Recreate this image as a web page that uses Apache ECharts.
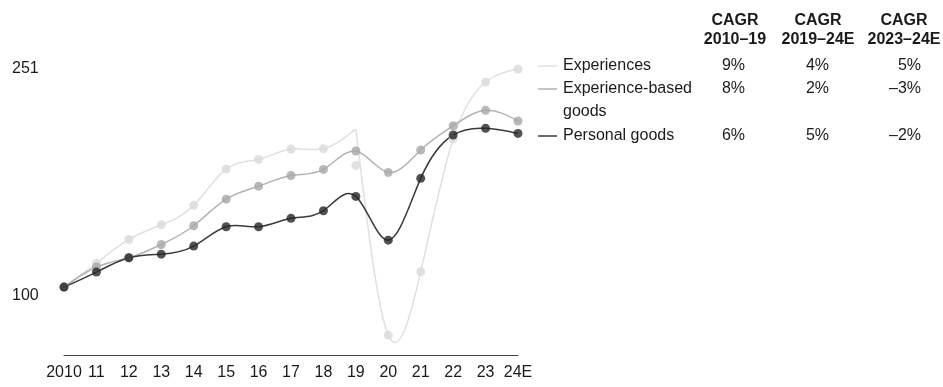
<!DOCTYPE html>
<html>
<head>
<meta charset="utf-8">
<script src="https://cdn.jsdelivr.net/npm/echarts@6/dist/echarts.min.js"></script>
<style>
  html, body { margin: 0; padding: 0; background: #fff; }
  #chart { width: 943px; height: 387px; }
</style>
</head>
<body>
<div id="chart"></div>
<script>
// Spending index, 2010 = 100
const years = ['2010', '11', '12', '13', '14', '15', '16', '17', '18', '19', '20', '21', '22', '23', '24E'];
const experiences = [100, 116.6, 133, 143.1, 156.6, 181.7, 188.4, 195.6, 195.8, 184.3, 66.8, 110.6, 202.5, 242, 251];
// Experiences trend line: peaks at 2019 before the drop, drawn with a corner there
const experiencesTrend = [100, 116.6, 133, 143.1, 156.6, 181.7, 188.4, 195.6, 195.8, 209.4, 66.8, 110.6, 202.5, 242, 251];
const experiencesCorners = [9];
const experienceBased = [100, 113.9, 120.3, 129.5, 142.5, 160.9, 169.9, 177.3, 181.5, 194.2, 179.4, 194.9, 211.7, 222.4, 215];
const personalGoods = [100, 110.4, 120.3, 122.8, 128.4, 141.8, 141.8, 147.6, 152.9, 162.8, 132.5, 175.3, 205.3, 209.9, 206.4];
const yTickLabels = [100, 251];

// CAGR table
const seriesNames = ['Experiences', 'Experience-based\ngoods', 'Personal goods'];
const cagrHeaders = ['CAGR\n2010\u201319', 'CAGR\n2019\u201324E', 'CAGR\n2023\u201324E'];
const cagr2010to19 = ['9%', '8%', '6%'];
const cagr2019to24 = ['4%', '2%', '5%'];
const cagr2023to24 = ['5%', '\u20133%', '\u20132%'];

const FONT = '"Liberation Sans", Arial, sans-serif';
const lineColors = ['#e0e0e0', '#b2b2b2', '#3a3a3a'];
const dotColors = ['#d9d9d9', '#a6a6a6', '#262626'];

// Natural cubic spline control points (same scheme as d3.curveNatural)
function controlPoints(x) {
  const n = x.length - 1;
  if (n === 1) return [[(2 * x[0] + x[1]) / 3], [(x[0] + 2 * x[1]) / 3]];
  const a = new Array(n), b = new Array(n), r = new Array(n);
  let m;
  a[0] = 0; b[0] = 2; r[0] = x[0] + 2 * x[1];
  for (let i = 1; i < n - 1; ++i) { a[i] = 1; b[i] = 4; r[i] = 4 * x[i] + 2 * x[i + 1]; }
  a[n - 1] = 2; b[n - 1] = 7; r[n - 1] = 8 * x[n - 1] + x[n];
  for (let i = 1; i < n; ++i) { m = a[i] / b[i - 1]; b[i] -= m; r[i] -= m * r[i - 1]; }
  a[n - 1] = r[n - 1] / b[n - 1];
  for (let i = n - 2; i >= 0; --i) a[i] = (r[i] - a[i + 1]) / b[i];
  b[n - 1] = (x[n] + a[n - 1]) / 2;
  for (let i = 0; i < n - 1; ++i) b[i] = 2 * x[i + 1] - a[i + 1];
  return [a, b];
}

// Renders segment i -> i+1 of a spline; the curve is split into runs at corner indices
function splineRenderer(values, color, corners) {
  const breaks = [0].concat(corners || [], [values.length - 1]);
  return function (params, api) {
    const i = params.dataIndex;
    if (i >= values.length - 1) return null;
    let r = 0;
    while (r < breaks.length - 2 && i >= breaks[r + 1]) r++;
    const start = breaks[r], end = breaks[r + 1];
    const pts = [];
    for (let k = start; k <= end; k++) pts.push(api.coord([k, values[k]]));
    const xs = pts.map(p => p[0]);
    const ys = pts.map(p => p[1]);
    const cx = controlPoints(xs);
    const cy = controlPoints(ys);
    const j = i - start;
    return {
      type: 'bezierCurve',
      shape: {
        x1: xs[j], y1: ys[j],
        cpx1: cx[0][j], cpy1: cy[0][j],
        cpx2: cx[1][j], cpy2: cy[1][j],
        x2: xs[j + 1], y2: ys[j + 1]
      },
      style: { stroke: color, lineWidth: 1.5, fill: 'none' },
      silent: true
    };
  };
}

const lineValues = [experiencesTrend, experienceBased, personalGoods];
const dotValues = [experiences, experienceBased, personalGoods];
const lineCorners = [experiencesCorners, [], []];
const series = [];
lineValues.forEach((vals, s) => {
  series.push({
    type: 'custom',
    renderItem: splineRenderer(vals, lineColors[s], lineCorners[s]),
    data: vals.map((v, k) => [k, v]),
    encode: { x: 0, y: 1 },
    silent: true
  });
  series.push({
    type: 'scatter',
    data: dotValues[s].map((v, k) => [k, v]),
    symbol: 'circle',
    symbolSize: 9,
    itemStyle: { color: dotColors[s] },
    silent: true
  });
});

// Table drawn beside the plot
const graphics = [];
const colX = [735, 818, 904];
const valRight = [745, 829, 921];
const rowY = [66, 89, 136];
const textStyle = (t, align, bold) => ({
  text: t, align: align, verticalAlign: 'middle',
  font: (bold ? 'bold ' : '') + '16px ' + FONT, fill: '#1a1a1a'
});
cagrHeaders.forEach((h, c) => {
  h.split('\n').forEach((t, r) => {
    graphics.push({ type: 'text', x: colX[c], y: 21 + r * 19, style: textStyle(t, 'center', true) });
  });
});
seriesNames.forEach((name, s) => {
  graphics.push({
    type: 'line',
    shape: { x1: 538, y1: rowY[s], x2: 557, y2: rowY[s] },
    style: { stroke: lineColors[s], lineWidth: 1.5 }
  });
  name.split('\n').forEach((t, r) => {
    graphics.push({ type: 'text', x: 563, y: rowY[s] + r * 23, style: textStyle(t, 'left', false) });
  });
  [cagr2010to19, cagr2019to24, cagr2023to24].forEach((col, c) => {
    graphics.push({ type: 'text', x: valRight[c], y: rowY[s], style: textStyle(col[s], 'right', false) });
  });
});

const chart = echarts.init(document.getElementById('chart'), null, { renderer: 'canvas' });
chart.setOption({
  animation: false,
  backgroundColor: '#ffffff',
  grid: { left: 64, right: 425, top: 69, bottom: 32, containLabel: false },
  xAxis: {
    type: 'category',
    data: years,
    boundaryGap: false,
    axisLine: { lineStyle: { color: '#444', width: 1 } },
    axisTick: { show: false },
    axisLabel: { color: '#1a1a1a', fontSize: 16, fontFamily: FONT, margin: 10, interval: 0 },
    splitLine: { show: false }
  },
  yAxis: {
    type: 'value',
    min: 53,
    max: 251,
    axisLine: { show: false },
    axisTick: { show: false },
    splitLine: { show: false },
    axisLabel: {
      customValues: yTickLabels,
      color: '#1a1a1a', fontSize: 16, fontFamily: FONT,
      align: 'left', margin: 52,
      formatter: v => (v === yTickLabels[0] ? '{low|' + v + '}' : String(v)),
      rich: { low: { fontSize: 16, fontFamily: FONT, color: '#1a1a1a', padding: [16, 0, 0, 0] } }
    }
  },
  series: series,
  graphic: graphics
});
</script>
</body>
</html>
